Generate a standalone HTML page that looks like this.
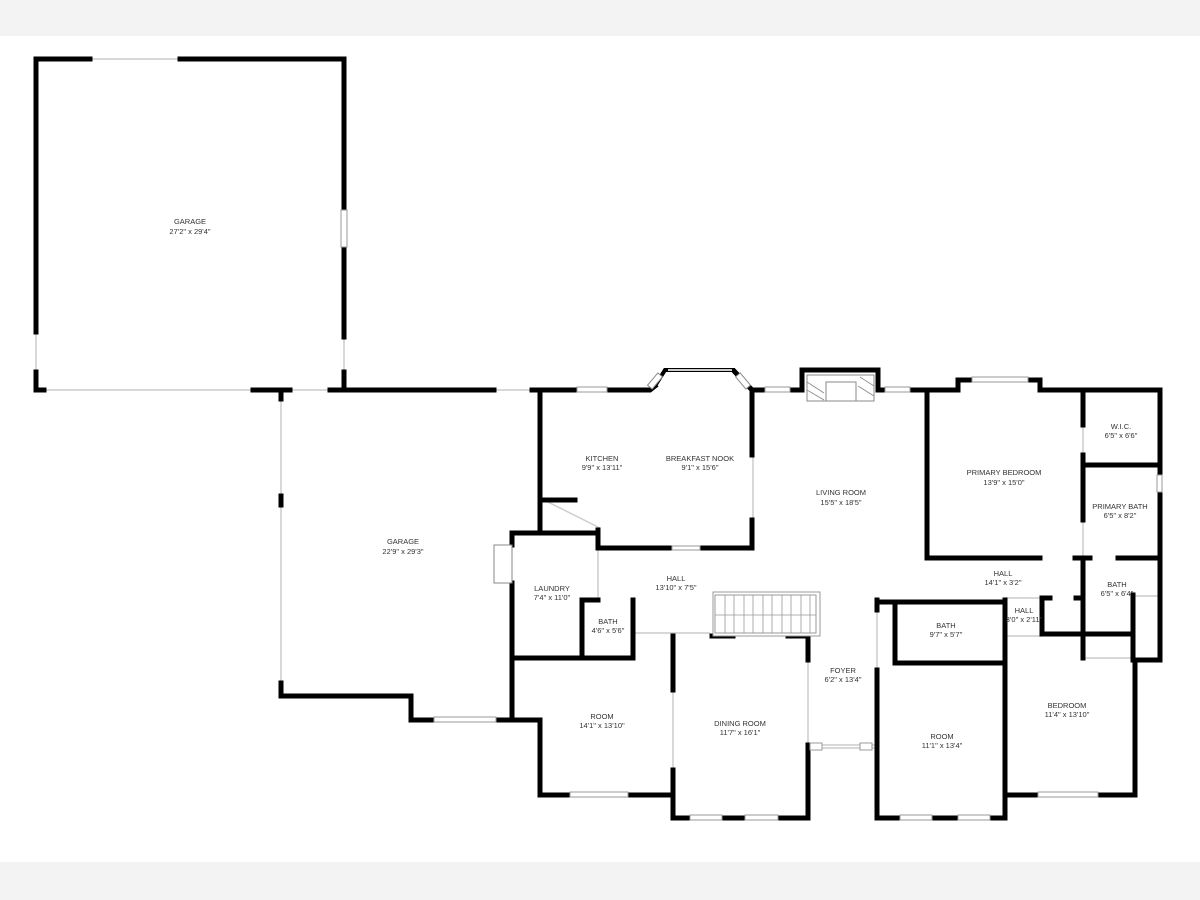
<!DOCTYPE html>
<html><head><meta charset="utf-8"><style>
html,body{margin:0;padding:0;width:1200px;height:900px;overflow:hidden;background:#fff}
svg{display:block}
text{font-family:"Liberation Sans",sans-serif;font-size:7.5px;fill:#333;text-anchor:middle}
</style></head><body>
<svg width="1200" height="900" viewBox="0 0 1200 900" xmlns="http://www.w3.org/2000/svg">
<rect x="0" y="0" width="1200" height="36" fill="#f3f3f3"/>
<rect x="0" y="862" width="1200" height="38" fill="#f3f3f3"/>
<!-- thin lines (openings / light walls) -->
<g stroke="#ccc" stroke-width="1.5" fill="none">
<line x1="36" y1="390" x2="252" y2="390"/>
<line x1="291" y1="390" x2="328" y2="390"/>
<line x1="494" y1="390" x2="532" y2="390"/>
<line x1="36" y1="332" x2="36" y2="372"/>
<line x1="344" y1="337" x2="344" y2="372"/>
<line x1="281" y1="400" x2="281" y2="683"/>
<line x1="90" y1="59" x2="180" y2="59"/>
<line x1="753" y1="455" x2="753" y2="520"/>
<line x1="540" y1="498" x2="600" y2="528"/>
<line x1="673" y1="690" x2="673" y2="770"/>
<line x1="808" y1="660" x2="808" y2="745"/>
<line x1="877" y1="610" x2="877" y2="670"/>
<line x1="1083" y1="425" x2="1083" y2="455"/>
<line x1="1083" y1="520" x2="1083" y2="560"/>
<line x1="635" y1="633" x2="710" y2="633"/>
<line x1="598" y1="550" x2="598" y2="600"/>
<line x1="1005" y1="598" x2="1042" y2="598"/>
<line x1="1005" y1="636" x2="1042" y2="636"/>
<line x1="1133" y1="596" x2="1158" y2="596"/>
<line x1="1083" y1="658" x2="1133" y2="658"/>
<line x1="808" y1="745" x2="877" y2="745"/>
<line x1="808" y1="748" x2="877" y2="748"/>
</g>
<!-- walls -->
<g stroke="#000" stroke-width="5" fill="none" stroke-linecap="square">
<!-- garage 1 -->
<polyline points="90,59 36,59 36,332"/>
<polyline points="180,59 344,59 344,210"/>
<line x1="344" y1="247" x2="344" y2="337"/>
<polyline points="36,372 36,390 44,390"/>
<line x1="253" y1="390" x2="290" y2="390"/>
<polyline points="330,390 344,390 344,372"/>
<line x1="330" y1="390" x2="494" y2="390"/>
<!-- garage 2 -->
<line x1="281" y1="391" x2="281" y2="399"/>
<line x1="281" y1="496" x2="281" y2="505"/>
<polyline points="281,683 281,696 411,696 411,720 434,720"/>
<line x1="496" y1="720" x2="512" y2="720"/>
<!-- kitchen -->
<polyline points="532,390 577,390"/>
<polyline points="607,390 650,390 655,386"/>
<polyline points="735,372 752,390 765,390"/>
<polyline points="540,390 540,530"/>
<polyline points="540,500 575,500"/>
<polyline points="598,530 598,548 672,548"/>
<polyline points="700,548 752,548 752,520"/>
<line x1="752" y1="390" x2="752" y2="455"/>
<!-- top right -->
<polyline points="790,390 802,390 802,370 878,370 878,390 885,390"/>
<polyline points="910,390 958,390 958,380 972,380"/>
<polyline points="1028,380 1040,380 1040,390 1160,390 1160,475"/>
<polyline points="1160,492 1160,660 1133,660 1133,595"/>
<!-- laundry -->
<polyline points="512,545 512,533 598,533"/>
<polyline points="512,583 512,720 540,720 540,795 570,795"/>
<polyline points="628,795 673,795"/>
<line x1="512" y1="658" x2="633" y2="658"/>
<polyline points="598,600 582,600 582,658"/>
<polyline points="633,600 633,658"/>
<!-- dining -->
<polyline points="673,636 673,690"/>
<polyline points="673,770 673,818 690,818"/>
<line x1="722" y1="818" x2="745" y2="818"/>
<polyline points="778,818 808,818 808,745"/>
<line x1="808" y1="636" x2="808" y2="660"/>
<line x1="712" y1="636" x2="733" y2="636"/>
<line x1="788" y1="636" x2="808" y2="636"/>
<!-- room 2 and bath -->
<polyline points="877,600 877,610"/>
<polyline points="877,670 877,818 900,818"/>
<line x1="932" y1="818" x2="958" y2="818"/>
<polyline points="990,818 1005,818 1005,600"/>
<polyline points="877,602 1005,602"/>
<polyline points="895,602 895,663 1005,663"/>
<!-- bedroom -->
<polyline points="1005,795 1038,795"/>
<polyline points="1098,795 1135,795 1135,660"/>
<!-- primary -->
<polyline points="927,390 927,558 1040,558"/>
<polyline points="1083,390 1083,425"/>
<polyline points="1083,455 1083,520"/>
<line x1="1083" y1="560" x2="1083" y2="658"/>
<line x1="1083" y1="465" x2="1160" y2="465"/>
<line x1="1118" y1="558" x2="1160" y2="558"/>
<line x1="1075" y1="558" x2="1090" y2="558"/>
<polyline points="1042,598 1042,634 1133,634"/>
<line x1="1042" y1="598" x2="1050" y2="598"/>
<line x1="1076" y1="598" x2="1083" y2="598"/>
</g>
<!-- windows -->
<g fill="#fff" stroke="#999" stroke-width="1">
<rect x="341" y="210" width="6" height="37"/>
<rect x="434" y="717" width="62" height="5"/>
<rect x="577" y="387" width="30" height="5"/>
<rect x="765" y="387" width="25" height="5"/>
<rect x="885" y="387" width="25" height="5"/>
<rect x="972" y="377" width="56" height="5"/>
<rect x="1157" y="475" width="5" height="17"/>
<rect x="570" y="792" width="58" height="5"/>
<rect x="690" y="815" width="32" height="5"/>
<rect x="745" y="815" width="33" height="5"/>
<rect x="900" y="815" width="32" height="5"/>
<rect x="958" y="815" width="32" height="5"/>
<rect x="1038" y="792" width="60" height="5"/>
<rect x="672" y="546" width="28" height="4"/>
<rect x="810" y="743" width="12" height="7"/>
<rect x="860" y="743" width="12" height="7"/>
<rect x="494" y="545" width="18" height="38" stroke="#888"/>
</g>
<!-- bay -->
<polyline points="655,386 665,370 735,370" fill="none" stroke="#000" stroke-width="4"/>
<line x1="668" y1="370" x2="732" y2="370" stroke="#ccc" stroke-width="2"/>
<rect x="652" y="373" width="6" height="16" fill="#fff" stroke="#888" transform="rotate(40 655 381)"/>
<rect x="740" y="373" width="6" height="16" fill="#fff" stroke="#888" transform="rotate(-40 743 381)"/>
<!-- fireplace -->
<rect x="807" y="375" width="67" height="26" fill="#fff" stroke="#888"/>
<rect x="826" y="382" width="30" height="19" fill="#fff" stroke="#888"/>
<g stroke="#888" stroke-width="0.8">
<line x1="807" y1="382" x2="824" y2="393"/><line x1="807" y1="390" x2="824" y2="400"/><line x1="860" y1="377" x2="874" y2="386"/><line x1="858" y1="386" x2="874" y2="396"/>
</g>
<!-- stairs -->
<rect x="713" y="592" width="107" height="44" fill="#fff" stroke="#999"/>
<rect x="715" y="595" width="101" height="38" fill="none" stroke="#999"/>
<g stroke="#999" stroke-width="0.8">
<line x1="715" y1="615" x2="816" y2="615"/>
<line x1="725" y1="595" x2="725" y2="633"/><line x1="734" y1="595" x2="734" y2="633"/><line x1="744" y1="595" x2="744" y2="633"/><line x1="753" y1="595" x2="753" y2="633"/><line x1="763" y1="595" x2="763" y2="633"/><line x1="772" y1="595" x2="772" y2="633"/><line x1="782" y1="595" x2="782" y2="633"/><line x1="791" y1="595" x2="791" y2="633"/><line x1="801" y1="595" x2="801" y2="633"/><line x1="810" y1="595" x2="810" y2="633"/>
</g>
<!-- labels -->
<text x="190" y="224">GARAGE</text><text x="190" y="234">27'2" x 29'4"</text>
<text x="403" y="544">GARAGE</text><text x="403" y="554">22'9" x 29'3"</text>
<text x="602" y="461">KITCHEN</text><text x="602" y="470">9'9" x 13'11"</text>
<text x="700" y="461">BREAKFAST NOOK</text><text x="700" y="470">9'1" x 15'6"</text>
<text x="841" y="495">LIVING ROOM</text><text x="841" y="505">15'5" x 18'5"</text>
<text x="1004" y="475">PRIMARY BEDROOM</text><text x="1004" y="485">13'9" x 15'0"</text>
<text x="1121" y="429">W.I.C.</text><text x="1121" y="438">6'5" x 6'6"</text>
<text x="1120" y="509">PRIMARY BATH</text><text x="1120" y="518">6'5" x 8'2"</text>
<text x="1003" y="576">HALL</text><text x="1003" y="585">14'1" x 3'2"</text>
<text x="1117" y="587">BATH</text><text x="1117" y="596">6'5" x 6'4"</text>
<text x="1024" y="613">HALL</text><text x="1024" y="622">3'0" x 2'11"</text>
<text x="946" y="628">BATH</text><text x="946" y="637">9'7" x 5'7"</text>
<text x="676" y="581">HALL</text><text x="676" y="590">13'10" x 7'5"</text>
<text x="552" y="591">LAUNDRY</text><text x="552" y="600">7'4" x 11'0"</text>
<text x="608" y="624">BATH</text><text x="608" y="633">4'6" x 5'6"</text>
<text x="602" y="719">ROOM</text><text x="602" y="728">14'1" x 13'10"</text>
<text x="740" y="726">DINING ROOM</text><text x="740" y="735">11'7" x 16'1"</text>
<text x="843" y="673">FOYER</text><text x="843" y="682">6'2" x 13'4"</text>
<text x="942" y="739">ROOM</text><text x="942" y="748">11'1" x 13'4"</text>
<text x="1067" y="708">BEDROOM</text><text x="1067" y="717">11'4" x 13'10"</text>
</svg>
</body></html>
